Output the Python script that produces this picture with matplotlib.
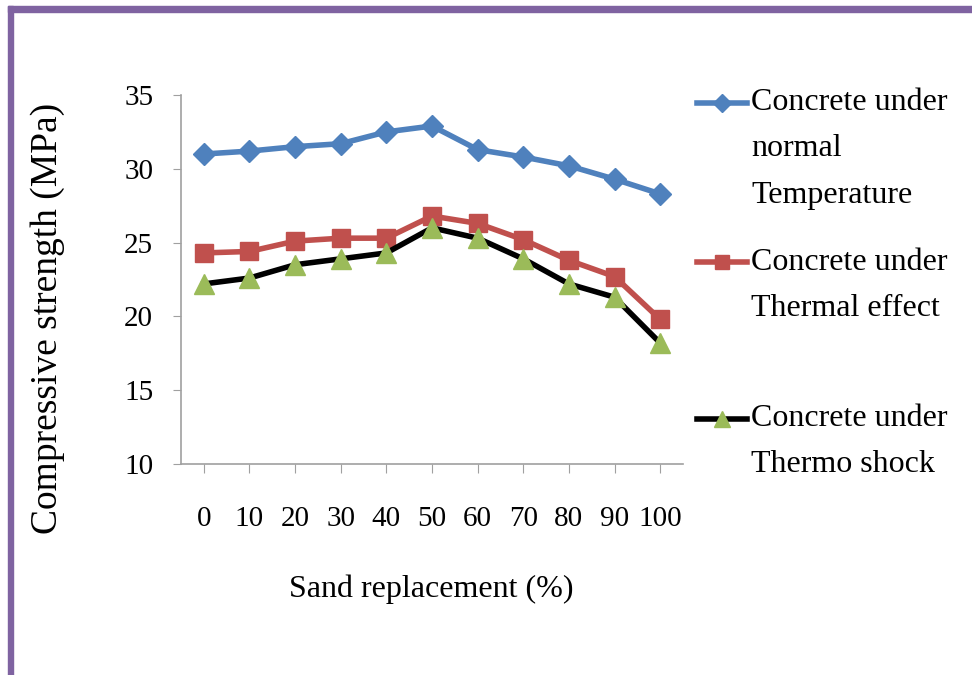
import matplotlib
matplotlib.use("Agg")
import matplotlib.pyplot as plt
from matplotlib.patches import Rectangle
from matplotlib.lines import Line2D

replacement = ["0", "10", "20", "30", "40", "50", "60", "70", "80", "90", "100"]
normal_temp = [31.0, 31.2, 31.5, 31.7, 32.5, 32.9, 31.3, 30.8, 30.2, 29.3, 28.3]
thermal_effect = [24.3, 24.4, 25.1, 25.3, 25.3, 26.8, 26.3, 25.2, 23.8, 22.7, 19.8]
thermo_shock = [22.2, 22.6, 23.5, 23.9, 24.3, 26.0, 25.3, 23.9, 22.2, 21.3, 18.2]

yticks = [10, 15, 20, 25, 30, 35]

plt.rcParams["font.family"] = ["Liberation Serif", "DejaVu Serif"]

W, H = 972, 675
fig = plt.figure(figsize=(W / 100, H / 100), dpi=100)
ax = fig.add_axes([181 / W, 1 - 464 / H, (683 - 181) / W, (464 - 95) / H])

xs = list(range(len(replacement)))
ax.plot(xs, normal_temp, color="#4F81BD", lw=4, marker="D", ms=11,
        mec="#4F81BD", mfc="#4F81BD", zorder=3)
ax.plot(xs, thermal_effect, color="#C0504D", lw=4, marker="s", ms=13,
        mec="#C0504D", mfc="#C0504D", zorder=3)
ax.plot(xs, thermo_shock, color="black", lw=4, marker="^", ms=15,
        mec="#9BBB59", mfc="#9BBB59", zorder=4)

ax.set_xlim(-0.5, len(replacement) - 0.5)
ax.set_ylim(10, 35)
ax.set_yticks(yticks)
ax.set_yticklabels([str(v) for v in yticks], fontsize=21)
ax.set_xticks(xs)
ax.set_xticklabels(replacement, fontsize=21)

for side in ("top", "right"):
    ax.spines[side].set_visible(False)
for side in ("left", "bottom"):
    ax.spines[side].set_color("#A0A0A0")
    ax.spines[side].set_linewidth(1.2)
ax.tick_params(axis="y", direction="out", length=6, color="#A0A0A0", pad=14)
ax.tick_params(axis="x", direction="out", length=6.5, color="#A0A0A0", pad=24)

fig.text(48 / W, 1 - 318 / H, "Compressive strength (MPa)", rotation=90,
         ha="center", va="center", fontsize=27)
fig.text(431 / W, 1 - 589 / H, "Sand replacement (%)", ha="center",
         va="center", fontsize=23)

# legend drawn by hand to match the Excel layout
legend_items = [
    ("#4F81BD", "#4F81BD", "D", 9, ["Concrete under", "normal", "Temperature"], 103),
    ("#C0504D", "#C0504D", "s", 10, ["Concrete under", "Thermal effect"], 262),
    ("black", "#9BBB59", "^", 11, ["Concrete under", "Thermo shock"], 419),
]
for lc, mc, mk, ms, lines, y0 in legend_items:
    fy = 1 - y0 / H
    fig.add_artist(Line2D([697 / W, 747 / W], [fy, fy], color=lc, lw=4,
                          transform=fig.transFigure))
    fig.add_artist(Line2D([722 / W], [fy], marker=mk, ms=ms, mfc=mc, mec=mc,
                          ls="none", transform=fig.transFigure))
    for i, t in enumerate(lines):
        fig.text(751 / W, 1 - (y0 + i * 46) / H, t, ha="left", va="center",
                 fontsize=23)

# purple frame
purple = "#7F63A1"
fig.add_artist(Rectangle((8 / W, 1 - 12 / H), 1, 6 / H, color=purple,
                         transform=fig.transFigure))
fig.add_artist(Rectangle((8 / W, 0), 5 / W, 1 - 6 / H, color=purple,
                         transform=fig.transFigure))

fig.savefig("out.png", dpi=100)
